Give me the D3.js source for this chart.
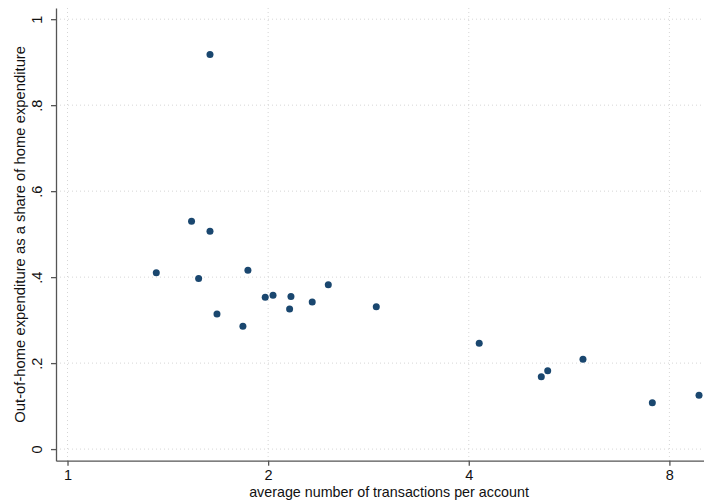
<!DOCTYPE html>
<html>
<head>
<meta charset="utf-8">
<script src="https://cdn.jsdelivr.net/npm/d3@7"></script>
<style>
  body { margin: 0; background: #fff; }
  svg { display: block; font-family: "Liberation Sans", Arial, sans-serif; }
</style>
</head>
<body>
<svg id="chart" width="704" height="503"></svg>
<script>
// transactions per account (x, log scale) and out-of-home share (y)
const txPerAccount = [1.636, 1.535, 1.636, 1.359, 1.573, 1.865, 1.676, 1.833, 1.980, 2.034, 2.164,
                      2.154, 2.329, 2.462, 2.906, 4.147, 5.139, 5.254, 5.935, 7.542, 8.862];
const outOfHomeShare = [0.918, 0.530, 0.507, 0.410, 0.397, 0.416, 0.314, 0.286, 0.353, 0.358, 0.355,
                        0.326, 0.342, 0.382, 0.331, 0.246, 0.168, 0.182, 0.209, 0.108, 0.125];
const xTicks = [1, 2, 4, 8];
const yTicks = [0, 0.2, 0.4, 0.6, 0.8, 1];
const yTickLabels = ["0", ".2", ".4", ".6", ".8", "1"];

const svg = d3.select("#chart");
const plotLeft = 56, plotRight = 704, plotTop = 8, plotBottom = 460.7;

// scales
const x = d3.scaleLog().base(2).domain([0.961, 9.016]).range([plotLeft, plotRight]);
const y = d3.scaleLinear().domain([-0.027, 1.026]).range([plotBottom, plotTop]);

// gridlines
svg.append("g").selectAll("line").data(yTicks).join("line")
  .attr("x1", plotLeft).attr("x2", plotRight)
  .attr("y1", d => y(d)).attr("y2", d => y(d))
  .attr("stroke", "#d6d6d6").attr("stroke-width", 1).attr("stroke-dasharray", "1,3");
svg.append("g").selectAll("line").data(xTicks).join("line")
  .attr("x1", d => x(d)).attr("x2", d => x(d))
  .attr("y1", plotTop).attr("y2", plotBottom)
  .attr("stroke", "#d6d6d6").attr("stroke-width", 1).attr("stroke-dasharray", "1,3");

// x axis
const xAxis = svg.append("g").attr("transform", `translate(0,${plotBottom})`)
  .call(d3.axisBottom(x).tickValues(xTicks).tickFormat(d3.format("d")).tickSize(5).tickSizeOuter(0).tickPadding(4));
// y axis
const yAxis = svg.append("g").attr("transform", `translate(${plotLeft},0)`)
  .call(d3.axisLeft(y).tickValues(yTicks).tickFormat((d, i) => yTickLabels[i]).tickSize(5).tickSizeOuter(0).tickPadding(4));

[xAxis, yAxis].forEach(g => {
  g.select(".domain").attr("stroke", "#555").attr("stroke-width", 1.3);
  g.selectAll(".tick line").attr("stroke", "#555").attr("stroke-width", 1.3);
  g.selectAll("text").attr("fill", "#111").style("font-size", "14.5px").style("font-family", "Liberation Sans, Arial, sans-serif");
});
// y tick labels rotated like Stata
yAxis.selectAll(".tick text")
  .attr("x", null).attr("dy", null)
  .attr("text-anchor", "middle")
  .attr("transform", "translate(-14,0) rotate(-90)");

// points
svg.append("g").selectAll("circle").data(txPerAccount).join("circle")
  .attr("cx", d => x(d))
  .attr("cy", (d, i) => y(outOfHomeShare[i]))
  .attr("r", 3.5)
  .attr("fill", "#1a476f");

// axis titles
svg.append("text").attr("x", 389).attr("y", 497).attr("text-anchor", "middle")
  .style("font-size", "14.3px").attr("fill", "#111")
  .text("average number of transactions per account");
svg.append("text").attr("transform", `translate(25,${(plotTop + plotBottom) / 2}) rotate(-90)`)
  .attr("text-anchor", "middle").style("font-size", "14.8px").attr("fill", "#111")
  .text("Out-of-home expenditure as a share of home expenditure");
</script>
</body>
</html>
